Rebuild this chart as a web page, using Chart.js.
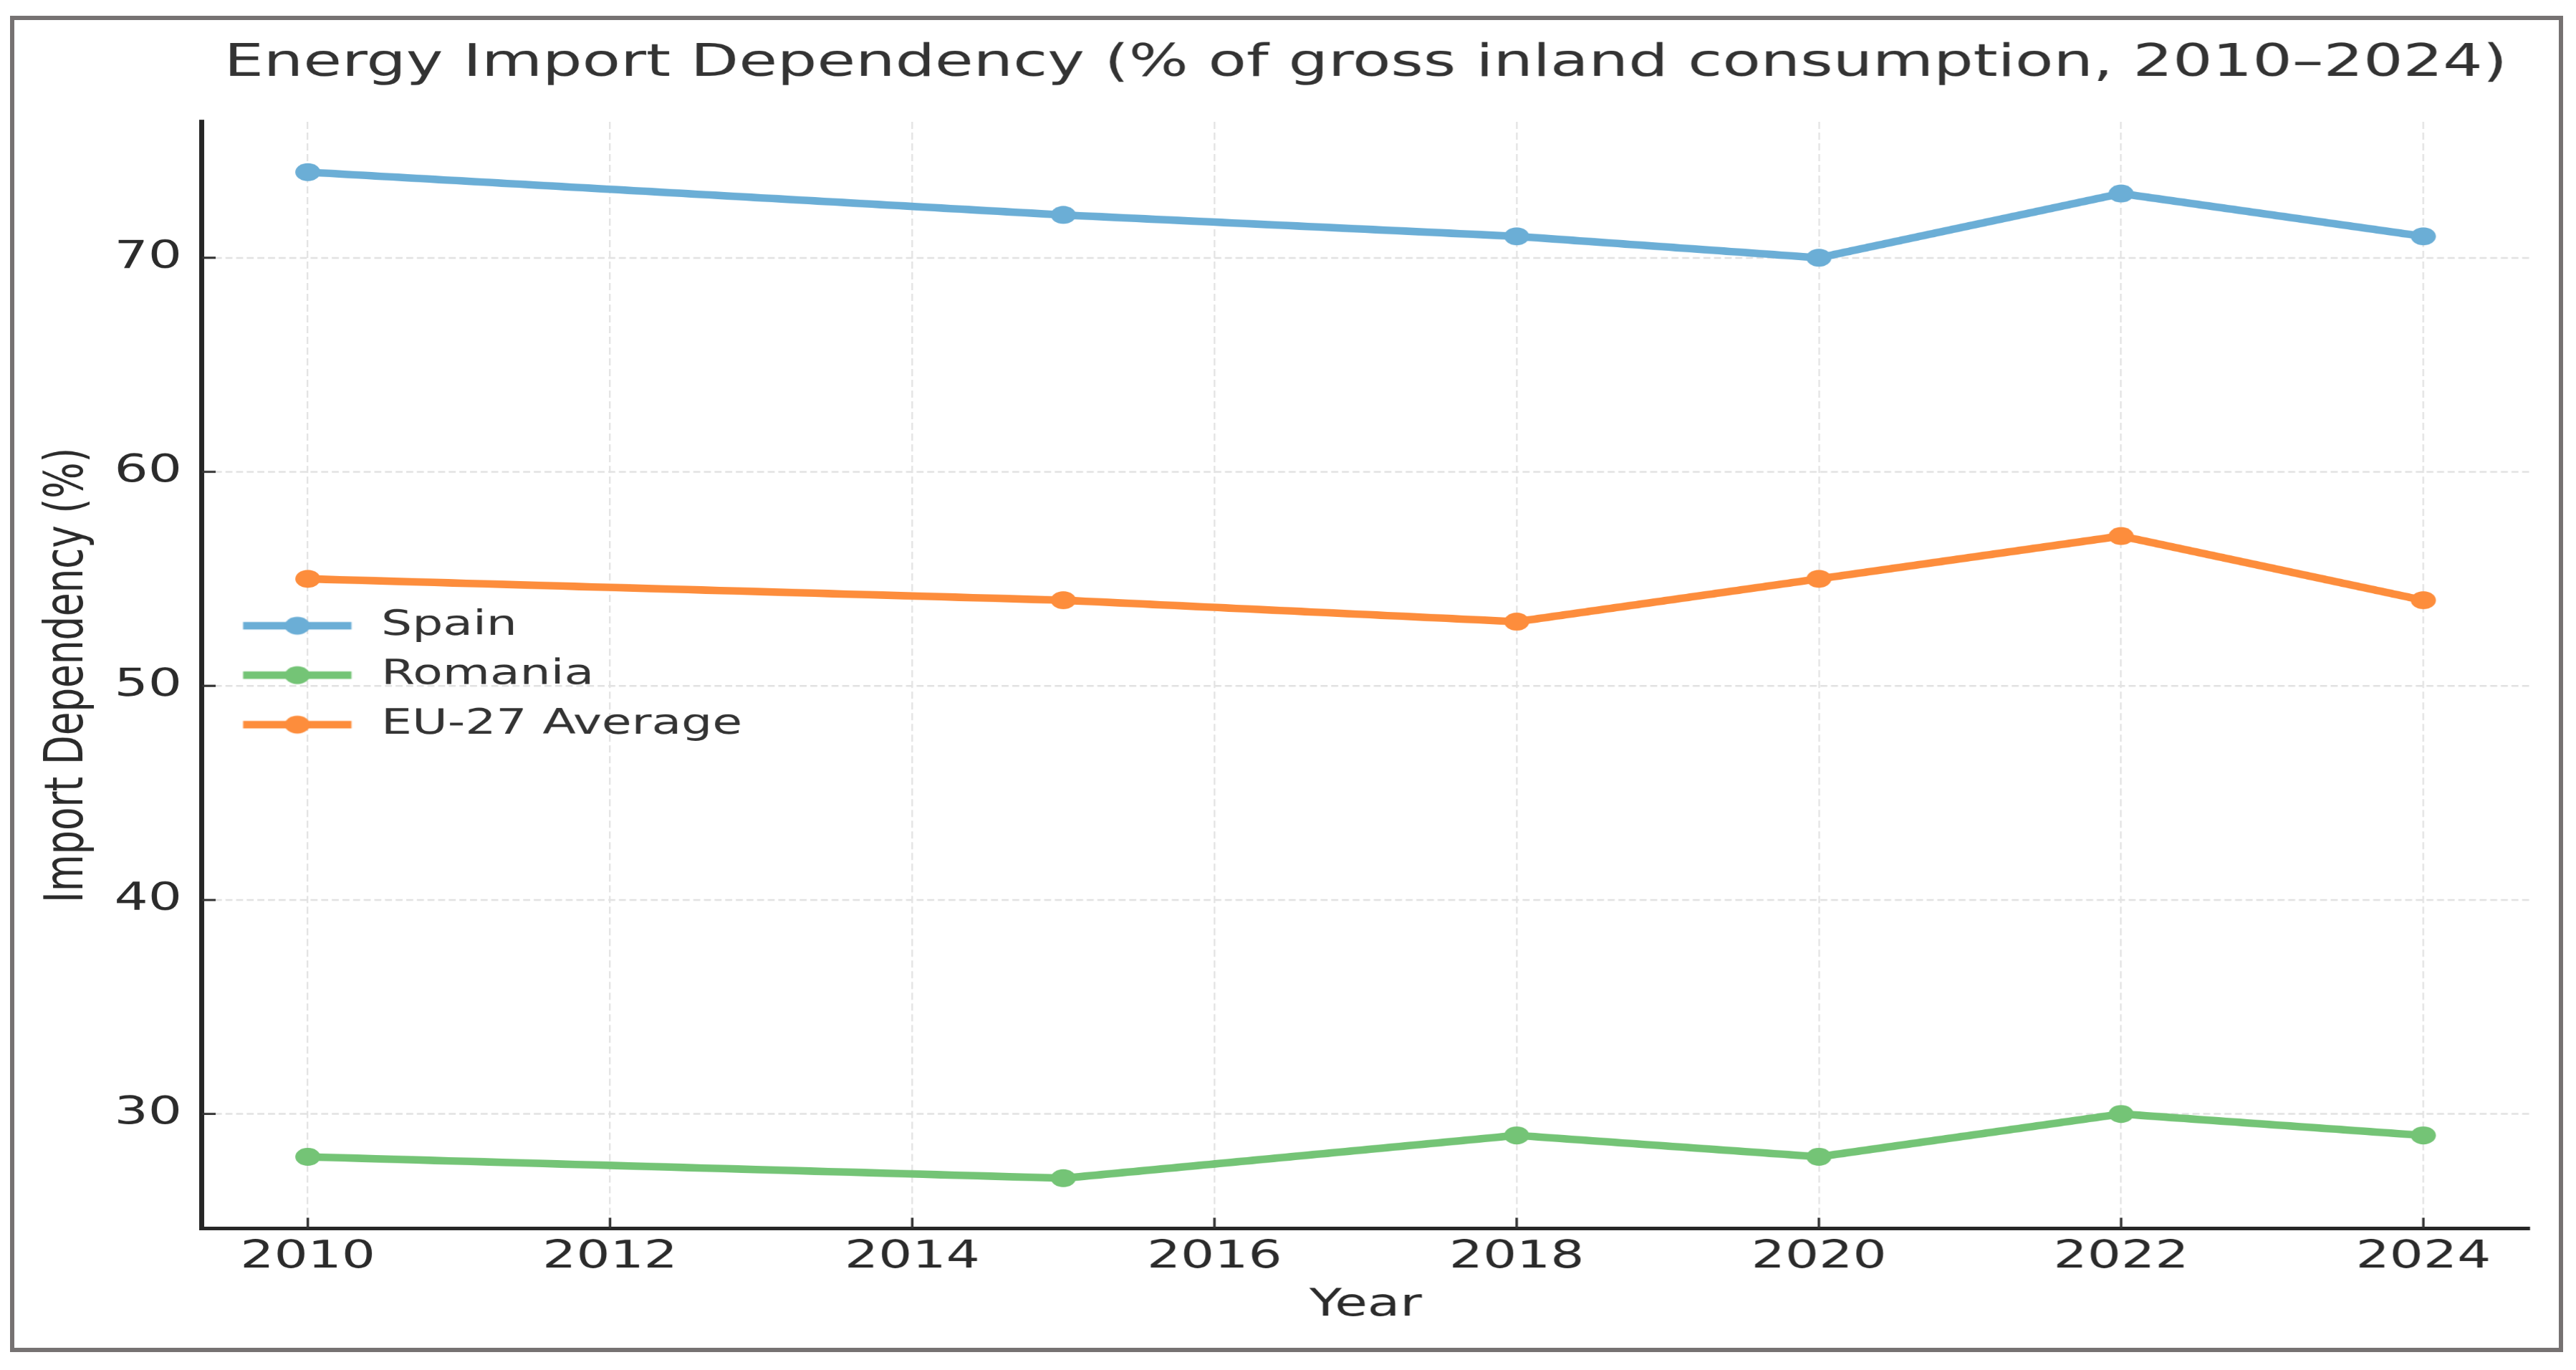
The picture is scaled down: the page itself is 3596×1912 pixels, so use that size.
<!DOCTYPE html>
<html lang="en">
<head>
  <meta charset="UTF-8">
  <title>Energy Import Dependency</title>
  <script src="https://cdn.jsdelivr.net/npm/chart.js@4.4.1/dist/chart.umd.min.js"></script>
  <style>
    html, body { margin: 0; padding: 0; background: #fff; overflow: hidden; }
    body { width: 3596px; height: 1912px; position: relative; }
    /* outer grey frame round the figure */
    #frame {
      position: absolute; left: 14px; top: 22px;
      width: 3552px; height: 1853px;
      border: 6px solid #767272; background: #fff;
    }
    /* the reference is stretched sideways, so the chart is drawn narrow and widened */
    #wrap {
      position: absolute; left: 0; top: 0;
      width: 2569px; height: 1912px;
      transform: scaleX(1.4); transform-origin: 0 0;
    }
  </style>
</head>
<body>
  <div id="frame"></div>
  <div id="wrap"><canvas id="importChart"></canvas></div>

  <script>
    const years = [2010, 2015, 2018, 2020, 2022, 2024];
    const spain = [74, 72, 71, 70, 73, 71];
    const romania = [28, 27, 29, 28, 30, 29];
    const eu27 = [55, 54, 53, 55, 57, 54];
    const seriesNames = ['Spain', 'Romania', 'EU-27 Average'];
    const xTicks = [2010, 2012, 2014, 2016, 2018, 2020, 2022, 2024];
    const yTicks = [30, 40, 50, 60, 70];

    const colors = ['#6baed6', '#74c476', '#fd8d3c'];
    const LINE_W = 10.5;
    const DOT_R = 12.5;
    const TEXT = '#2b2b2b';

    Chart.defaults.font.family = "'DejaVu Sans', sans-serif";
    Chart.defaults.color = TEXT;

    // matplotlib-like legend handle: short line with a dot in the middle
    function legendIcon(color) {
      const c = document.createElement('canvas');
      c.width = 134; c.height = 32;
      const g = c.getContext('2d');
      const cx = c.width / 2 + 7.5, cy = c.height / 2;
      g.strokeStyle = color; g.lineWidth = LINE_W;
      g.beginPath(); g.moveTo(cx - 54, cy); g.lineTo(cx + 54, cy); g.stroke();
      g.fillStyle = color;
      g.beginPath(); g.arc(cx, cy, DOT_R, 0, Math.PI * 2); g.fill();
      return c;
    }
    const icons = colors.map(legendIcon);

    function makeSet(i, values) {
      return {
        label: seriesNames[i],
        data: years.map((yr, k) => ({ x: yr, y: values[k] })),
        borderColor: colors[i],
        backgroundColor: colors[i],
        borderWidth: LINE_W,
        borderJoinStyle: 'round',
        pointRadius: DOT_R,
        pointHoverRadius: DOT_R,
        pointBorderWidth: 0,
        tension: 0,
        fill: false
      };
    }

    // ticks point inwards in the reference
    const inwardTicks = {
      id: 'inwardTicks',
      afterDatasetsDraw(chart) {
        const { ctx, chartArea: a, scales: { x, y } } = chart;
        ctx.save();
        ctx.strokeStyle = '#333';
        ctx.lineWidth = 2.5;
        ctx.beginPath();
        xTicks.forEach(v => {
          const px = x.getPixelForValue(v);
          ctx.moveTo(px, a.bottom); ctx.lineTo(px, a.bottom - 15);
        });
        ctx.stroke();
        ctx.lineWidth = 3;
        ctx.beginPath();
        yTicks.forEach(v => {
          const py = y.getPixelForValue(v);
          ctx.moveTo(a.left, py); ctx.lineTo(a.left + 13.6, py);
        });
        ctx.stroke();
        ctx.restore();
      }
    };

    // keep the legend box on the plot area
    const legendPlace = {
      id: 'legendPlace',
      afterLayout(chart) {
        const l = chart.legend, a = chart.chartArea;
        if (!l) return;
        l.left = a.left; l.top = a.top; l.bottom = a.bottom; l.right = a.left + l.width;
      }
    };

    new Chart(document.getElementById('importChart'), {
      type: 'line',
      data: {
        datasets: [makeSet(0, spain), makeSet(1, romania), makeSet(2, eu27)]
      },
      plugins: [inwardTicks, legendPlace],
      options: {
        responsive: true,
        maintainAspectRatio: false,
        devicePixelRatio: 1.4,
        animation: false,
        layout: { padding: { left: 0, right: 47.6, top: 0, bottom: 0 } },
        plugins: {
          tooltip: { enabled: false },
          title: {
            display: true,
            text: 'Energy Import Dependency (% of gross inland consumption, 2010–2024)',
            fullSize: false,
            color: '#333',
            font: { size: 62.4, weight: 'normal' },
            padding: { top: 52, bottom: 43.1 }
          },
          legend: {
            position: 'chartArea',
            align: 'center',
            labels: {
              usePointStyle: true,
              pointStyleWidth: 133.9,
              padding: 20.5,
              color: '#333',
              font: { size: 48.5 },
              generateLabels: (chart) => chart.data.datasets.map((ds, i) => ({
                text: ds.label,
                pointStyle: icons[i],
                fillStyle: ds.borderColor,
                strokeStyle: ds.borderColor,
                lineWidth: 0,
                hidden: false,
                fontColor: '#333',
                datasetIndex: i
              }))
            }
          }
        },
        scales: {
          x: {
            type: 'linear',
            min: 2009.3,
            max: 2024.7,
            afterBuildTicks: s => { s.ticks = xTicks.map(v => ({ value: v })); },
            afterFit: s => { s.height = 198; },
            ticks: {
              callback: v => String(v),
              padding: 9,
              color: TEXT,
              font: { size: 53 },
              maxRotation: 0
            },
            grid: { color: '#e2e2e2', lineWidth: 1.6, drawTicks: false },
            border: { display: true, color: '#262626', width: 5, dash: [10, 5] },
            title: {
              display: true,
              text: 'Year',
              color: TEXT,
              font: { size: 53 },
              padding: { top: 0, bottom: 58 }
            }
          },
          y: {
            min: 24.65,
            max: 76.35,
            afterBuildTicks: s => { s.ticks = yTicks.map(v => ({ value: v })); },
            afterFit: s => { s.width = 201.4; },
            ticks: {
              padding: 20,
              color: TEXT,
              font: { size: 53 }
            },
            grid: { color: '#e2e2e2', lineWidth: 2.5, drawTicks: false },
            border: { display: true, color: '#262626', width: 5, dash: [7, 3.6] },
            title: {
              display: true,
              text: 'Import Dependency (%)',
              color: TEXT,
              font: { size: 53 },
              padding: { top: 36.8, bottom: 0 }
            }
          }
        }
      }
    });
  </script>
</body>
</html>
